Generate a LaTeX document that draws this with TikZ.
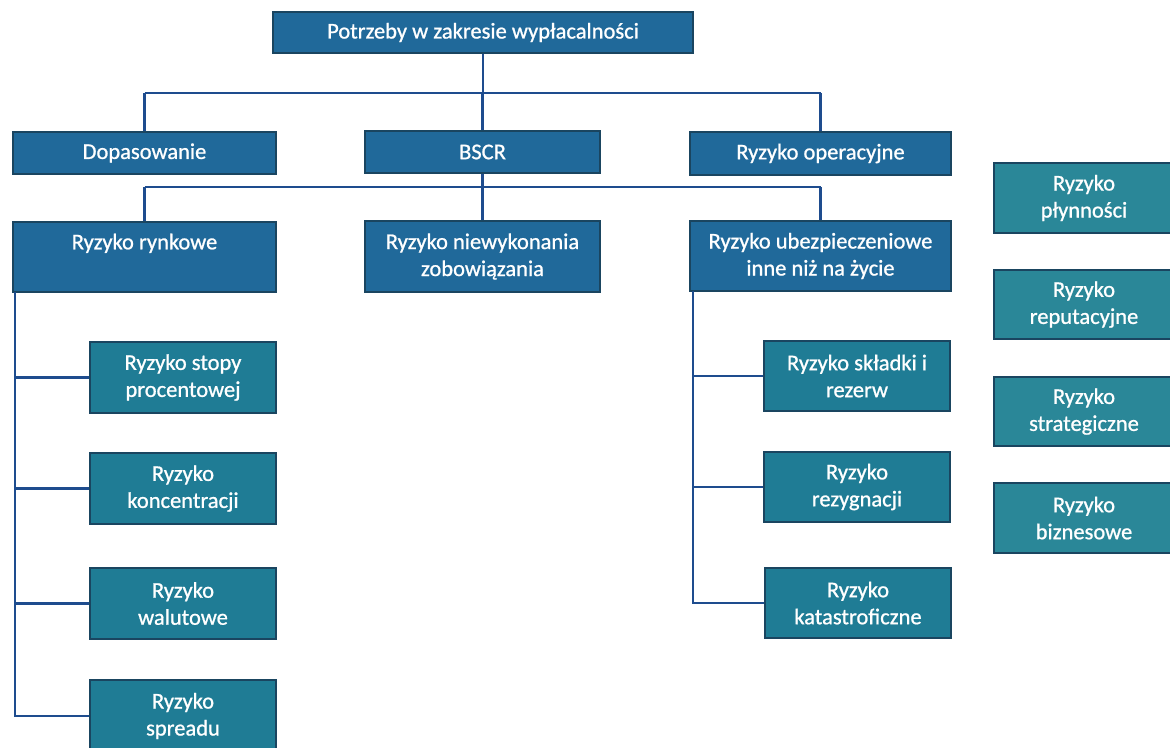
\documentclass[tikz,border=0pt]{standalone}
\usepackage{fontspec}
\setmainfont{Carlito}
\newfontfamily\boxfont{Carlito}[FakeBold=0.9]
\definecolor{darkbox}{HTML}{20699A}
\definecolor{tealbox}{HTML}{1F7C95}
\definecolor{sidebox}{HTML}{2A8798}
\definecolor{boxedge}{HTML}{1A4560}
\definecolor{wire}{HTML}{1E4C8E}
\tikzset{
  box/.style={rectangle, draw=boxedge, line width=1.4pt, text=white, inner sep=0pt, align=center, font=\boxfont\fontsize{22.5}{27}\selectfont},
  dbox/.style={box, fill=darkbox},
  tbox/.style={box, fill=tealbox},
  sbox/.style={box, fill=sidebox},
  wireline/.style={draw=wire, line width=2.8pt},
}
\newcommand{\bx}[7]{%
  \node[#6, minimum width={(#4-#2)*1pt}, minimum height={(#5-#3)*1pt}] (#1) at ({(#2+#4)/2},{(#3+#5)/2}) {#7};}
\begin{document}
\begin{tikzpicture}[x=1pt,y=-1pt]
\clip (0,0) rectangle (1170,747);
\fill[white] (0,0) rectangle (1170,747);
% level 0
\bx{top}{273}{12}{693}{53}{dbox}{Potrzeby w zakresie wypłacalności}
% level 1
\bx{dop}{13}{132}{276}{174}{dbox}{Dopasowanie}
\bx{bscr}{365}{131}{600}{173}{dbox}{BSCR}
\bx{ope}{690}{132}{951}{175}{dbox}{Ryzyko operacyjne}
% level 2
\bx{ryn}{13}{222}{276}{292}{dbox}{Ryzyko rynkowe\\[4pt]}
\bx{nie}{365}{221}{600}{292}{dbox}{Ryzyko niewykonania\\zobowiązania}
\bx{ube}{690}{221}{951}{291}{dbox}{Ryzyko ubezpieczeniowe\\inne niż na życie}
% market sub-risks
\bx{sto}{90}{342}{276}{413}{tbox}{Ryzyko stopy\\procentowej}
\bx{kon}{90}{453}{276}{524}{tbox}{Ryzyko\\koncentracji}
\bx{wal}{90}{568}{276}{639}{tbox}{Ryzyko\\walutowe}
\bx{spr}{90}{680}{276}{752}{tbox}{Ryzyko\\spreadu}
% insurance sub-risks
\bx{skl}{764}{341}{950}{411}{tbox}{Ryzyko składki i\\rezerw}
\bx{rez}{764}{452}{950}{522}{tbox}{Ryzyko\\rezygnacji}
\bx{kat}{765}{568}{951}{638}{tbox}{Ryzyko\\katastroficzne}
% side column
\bx{ply}{994}{163}{1190}{233}{sbox}{\hspace*{-16pt}Ryzyko\\\hspace*{-16pt}płynności}
\bx{rep}{994}{270}{1190}{339}{sbox}{\hspace*{-16pt}Ryzyko\\\hspace*{-16pt}reputacyjne}
\bx{str}{994}{377}{1190}{446}{sbox}{\hspace*{-16pt}Ryzyko\\\hspace*{-16pt}strategiczne}
\bx{biz}{994}{483}{1190}{553}{sbox}{\hspace*{-16pt}Ryzyko\\\hspace*{-16pt}biznesowe}
% connectors
\coordinate (busA) at (483,93);
\coordinate (busB) at (483,187);
\path[wireline] (top.south) -- (top.south |- busA);
\path[wireline] (dop.north |- busA) -- (ope.north |- busA);
\path[wireline] (dop.north |- busA) -- (dop.north);
\path[wireline] (bscr.north |- busA) -- (bscr.north);
\path[wireline] (ope.north |- busA) -- (ope.north);
\path[wireline] (bscr.south) -- (nie.north);
\path[wireline] (ryn.north |- busB) -- (ube.north |- busB);
\path[wireline] (ryn.north |- busB) -- (ryn.north);
\path[wireline] (ube.north |- busB) -- (ube.north);
\coordinate (spL) at (15,292);
\coordinate (spR) at (693,291);
\path[wireline] (spL) |- (sto.west);
\path[wireline] (spL) |- (kon.west);
\path[wireline] (spL) |- (wal.west);
\path[wireline] (spL) |- (spr.west);
\path[wireline] (spR) |- (skl.west);
\path[wireline] (spR) |- (rez.west);
\path[wireline] (spR) |- (kat.west);
\end{tikzpicture}
\end{document}
